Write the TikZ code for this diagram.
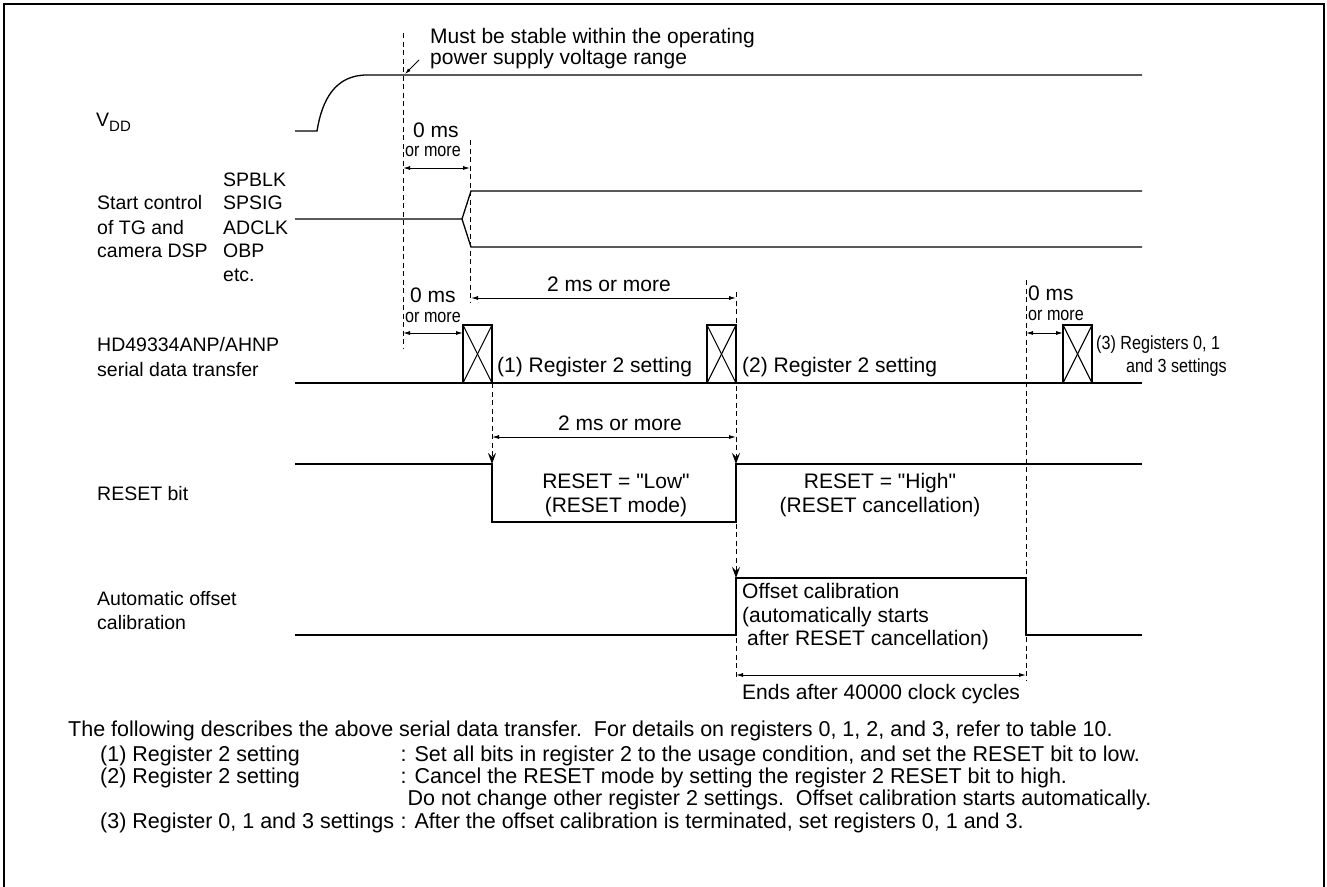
\documentclass[tikz,border=0pt]{standalone}
\usepackage{fontspec}
\setmainfont{Liberation Sans}[Ligatures=TeXOff]
\newfontfamily\condfont{Liberation Sans}[FakeStretch=0.85,Ligatures=TeXOff]
\usetikzlibrary{arrows.meta}
\begin{document}
\begin{tikzpicture}[x=1pt,y=-1pt,
  sig/.style={line width=1.3pt, line join=miter},
  dashln/.style={line width=0.9pt, dash pattern=on 5pt off 3.5pt},
  dimarrow/.style={line width=0.9pt, {Latex[length=7pt,width=4pt]}-{Latex[length=7pt,width=4pt]}},
  edgearrow/.style={line width=0.9pt, dash pattern=on 5pt off 3.5pt, -{Stealth[length=11pt,width=8pt,inset=4pt]}},
  ptr/.style={line width=0.8pt, -{Latex[length=6pt,width=3.5pt]}},
  boxx/.style={line width=1.1pt},
  txt/.style={font=\fontsize{21}{24}\selectfont, inner sep=0pt, text height=15pt, text depth=4.4pt},
  note/.style={font=\fontsize{21.5}{25}\selectfont, inner sep=0pt, text height=15.4pt, text depth=4.5pt, anchor=west},
  lbl/.style={font=\fontsize{19.5}{24}\selectfont, inner sep=0pt, text height=14pt, text depth=4.1pt, anchor=west},
  small/.style={font=\condfont\fontsize{19}{22}\selectfont, inner sep=0pt, text height=13.7pt, text depth=4pt, anchor=west},
]
\useasboundingbox (0,0) rectangle (1327,886);
\clip (0,0) rectangle (1327,886);

% frame
\draw[line width=2.5pt] (4,900) -- (4,4) -- (1324,4) -- (1324,900);

% ---------- left labels ----------
\node[lbl] (lvdd) at (96,122) {V\raisebox{-5pt}{\fontsize{15}{15}\selectfont DD}};
\node[lbl] (ls1) at (97,205) {Start control};
\node[lbl] (ls2) at (97,230) {of TG and};
\node[lbl] (ls3) at (97,253) {camera DSP};
\node[lbl] (ln1) at (223,182) {SPBLK};
\node[lbl] (ln2) at (223,205) {SPSIG};
\node[lbl] (ln3) at (223,230) {ADCLK};
\node[lbl] (ln4) at (223,253) {OBP};
\node[lbl] (ln5) at (223,277) {etc.};
\node[lbl] (lhd1) at (97,347) {HD49334ANP/AHNP};
\node[lbl] (lhd2) at (97,372) {serial data transfer};
\node[lbl] (lrst) at (97,496) {RESET bit};
\node[lbl] (lao1) at (97,601) {Automatic offset};
\node[lbl] (lao2) at (97,625) {calibration};

% ---------- VDD ----------
\coordinate (v0) at (295,131);
\coordinate (v1) at (317,131);
\coordinate (v2) at (367,75);
\coordinate (v3) at (1142,75);
\draw[sig] (v0) -- (v1) .. controls (322,100) and (335,75) .. (v2) -- (v3);

% dashed A
\coordinate (a0) at (403,33);
\coordinate (a1) at (403,348);
\draw[dashln] (a0) -- (a1);
\node[txt, anchor=west] (must) at (430,38) {Must be stable within the operating};
\node[txt, anchor=west] (psv) at (430,59) {power supply voltage range};
\coordinate (p0) at (419,60);
\coordinate (p1) at (405,74);
\draw[ptr] (p0) -- (p1);

% first 0 ms
\node[txt, anchor=west] (z1a) at (413,132) {0 ms};
\node[small] (z1b) at (405,152) {or more};
\coordinate (d1a) at (403,168);
\coordinate (d1b) at (470,168);
\draw[dimarrow] (d1a) -- (d1b);
% dashed B
\coordinate (b0) at (470,140);
\coordinate (b1) at (470,302);
\draw[dashln] (b0) -- (b1);

% ---------- Start control ----------
\coordinate (s0) at (295,219);
\coordinate (s1) at (462,219);
\coordinate (sh0) at (471,191);
\coordinate (sh1) at (1142,191);
\coordinate (sl0) at (471,247);
\coordinate (sl1) at (1142,247);
\draw[sig] (s0) -- (s1) -- (sh0) -- (sh1);
\draw[sig] (s1) -- (sl0) -- (sl1);

% upper 2 ms
\node[txt] (t2a) at (609,286) {2 ms or more};
\coordinate (d2a) at (471,298);
\coordinate (d2b) at (736,298);
\draw[dimarrow] (d2a) -- (d2b);

% second 0 ms
\node[txt, anchor=west] (z2a) at (410,297) {0 ms};
\node[small] (z2b) at (405,318) {or more};
\coordinate (d3a) at (403,333);
\coordinate (d3b) at (463,333);
\draw[dimarrow] (d3a) -- (d3b);

% third 0 ms
\node[txt, anchor=west] (z3a) at (1028,295) {0 ms};
\node[small] (z3b) at (1028,316) {or more};
\coordinate (d4a) at (1026,333);
\coordinate (d4b) at (1063,333);
\draw[dimarrow] (d4a) -- (d4b);

% ---------- serial data ----------
\coordinate (r0) at (295,383);
\coordinate (r1) at (1142,383);
\draw[sig] (r0) -- (r1);
\foreach \bx in {463,707,1063}{
  \draw[boxx] (\bx,325) rectangle ++(29,58);
  \draw[boxx] (\bx,325) -- ++(29,58);
  \draw[boxx] (\bx,383) -- ++(29,-58);
}
\node[txt, anchor=west] (reg1) at (497,367) {(1) Register 2 setting};
\node[txt, anchor=west] (reg2) at (742,367) {(2) Register 2 setting};
\node[small] (reg3a) at (1096,345) {(3) Registers 0, 1};
\node[small] (reg3b) at (1126,368) {and 3 settings};

% lower 2 ms
\node[txt] (t2b) at (620,425) {2 ms or more};
\coordinate (d5a) at (492,437);
\coordinate (d5b) at (736,437);
\draw[dimarrow] (d5a) -- (d5b);

% dashed guides with arrows
\coordinate (g1a) at (492,383);
\coordinate (g1b) at (492,464);
\draw[edgearrow] (g1a) -- (g1b);
\coordinate (g2a) at (736,292);
\coordinate (g2b) at (736,464);
\coordinate (g2c) at (736,578);
\coordinate (g2d) at (736,680);
\draw[edgearrow] (g2a) -- (g2b);
\draw[edgearrow] (g2b) -- (g2c);
\draw[dashln] (g2c) -- (g2d);
\coordinate (e0) at (1026,280);
\coordinate (e1) at (1026,680);
\draw[dashln] (e0) -- (e1);

% ---------- RESET ----------
\draw[sig] (295,464) -- (492,464) -- (492,522) -- (736,522) -- (736,464) -- (1142,464);
\node[txt] (rl1) at (616,483) {RESET = "Low"};
\node[txt] (rl2) at (616,507) {(RESET mode)};
\node[txt] (rh1) at (880,483) {RESET = "High"};
\node[txt] (rh2) at (880,507) {(RESET cancellation)};

% ---------- Offset ----------
\draw[sig] (295,635) -- (736,635) -- (736,578) -- (1026,578) -- (1026,635) -- (1142,635);
\node[txt, anchor=west] (oc1) at (742,593) {Offset calibration};
\node[txt, anchor=west] (oc2) at (742,617) {(automatically starts};
\node[txt, anchor=west] (oc3) at (747,640) {after RESET cancellation)};

\coordinate (d6a) at (736,675);
\coordinate (d6b) at (1026,675);
\draw[dimarrow] (d6a) -- (d6b);
\node[txt, anchor=west] (ends) at (742,694) {Ends after 40000 clock cycles};

% ---------- notes ----------
\node[note] (n0) at (68,731) {The following describes the above serial data transfer.\ \ For details on registers 0, 1, 2, and 3, refer to table 10.};
\node[note] (n3a) at (100,823) {(3) Register 0, 1 and 3 settings};
\node[note] (n3b) at ([xshift=6pt]n3a.east) {: After the offset calibration is terminated, set registers 0, 1 and 3.};
\node[note] (n1a) at (100,756) {(1) Register 2 setting};
\node[note] (n1b) at (n3b.west |- 0,756) {: Set all bits in register 2 to the usage condition, and set the RESET bit to low.};
\node[note] (n2a) at (100,778) {(2) Register 2 setting};
\node[note] (n2b) at (n3b.west |- 0,778) {: Cancel the RESET mode by setting the register 2 RESET bit to high.};
\node[note, xshift=7pt] (n2c) at (n3b.west |- 0,800) {Do not change other register 2 settings.\ \ Offset calibration starts automatically.};
\end{tikzpicture}
\end{document}
